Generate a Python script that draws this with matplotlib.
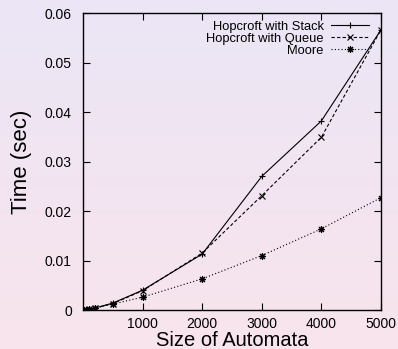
import numpy as np
import matplotlib.pyplot as plt
from matplotlib.colors import LinearSegmentedColormap

sizes = [10, 20, 50, 100, 200, 500, 1000, 2000, 3000, 4000, 5000]
hop_stack = [0.0, 0.0, 0.0001, 0.0002, 0.0004, 0.0014, 0.0040, 0.0113, 0.0270, 0.0382, 0.0566]
hop_queue = [0.0, 0.0, 0.0001, 0.0002, 0.0004, 0.0013, 0.0039, 0.0115, 0.0231, 0.0349, 0.0566]
moore = [0.0, 0.0, 0.0001, 0.0002, 0.0004, 0.0012, 0.0026, 0.0063, 0.0110, 0.0164, 0.0227]

plt.rcParams['font.family'] = ['Liberation Sans', 'DejaVu Sans']

fig = plt.figure(figsize=(3.98, 3.49), dpi=100)

# gradient background, lavender at top to pink at bottom
bg = fig.add_axes([0, 0, 1, 1], zorder=-10)
cmap = LinearSegmentedColormap.from_list('bg', ['#ebe6f6', '#f8e4ec'])
bg.imshow(np.linspace(0, 1, 256).reshape(-1, 1), aspect='auto', cmap=cmap, extent=[0, 1, 0, 1])
bg.axis('off')

ax = fig.add_axes([0.2085, 0.1117, 0.7487, 0.851])
ax.patch.set_alpha(0)

ax.plot(sizes, hop_stack, color='black', lw=0.8, ls='-', marker='+', ms=5, mew=0.8,
        label='Hopcroft with Stack')
ax.plot(sizes, hop_queue, color='black', lw=0.8, ls=(0, (3, 2)), marker='x', ms=5, mew=0.8,
        label='Hopcroft with Queue')
ax.plot(sizes, moore, color='black', lw=0.8, ls=(0, (1, 2)), marker=(8, 2, 0), ms=5, mew=0.8,
        label='Moore')

ax.set_xlim(0, 5000)
ax.set_ylim(0, 0.06)
ax.set_xticks([1000, 2000, 3000, 4000, 5000])
ax.set_yticks([0, 0.01, 0.02, 0.03, 0.04, 0.05, 0.06])
ax.set_yticklabels(['0', '0.01', '0.02', '0.03', '0.04', '0.05', '0.06'])
ax.tick_params(direction='in', top=True, right=True, length=5, width=0.8, labelsize=10)
ax.tick_params(axis='y', pad=8)
ax.tick_params(axis='x', pad=5)
for s in ax.spines.values():
    s.set_linewidth(1.0)

ax.set_xlabel('Size of Automata', fontsize=14.5, labelpad=0)
ax.set_ylabel('Time (sec)', fontsize=16, labelpad=9)

ax.legend(loc='upper right', frameon=False, markerfirst=False, fontsize=9.3,
          handlelength=2.9, labelspacing=0.0, borderaxespad=0.2, handletextpad=0.6,
          bbox_to_anchor=(0.985, 1.0))

fig.savefig('out.png', dpi=100)
